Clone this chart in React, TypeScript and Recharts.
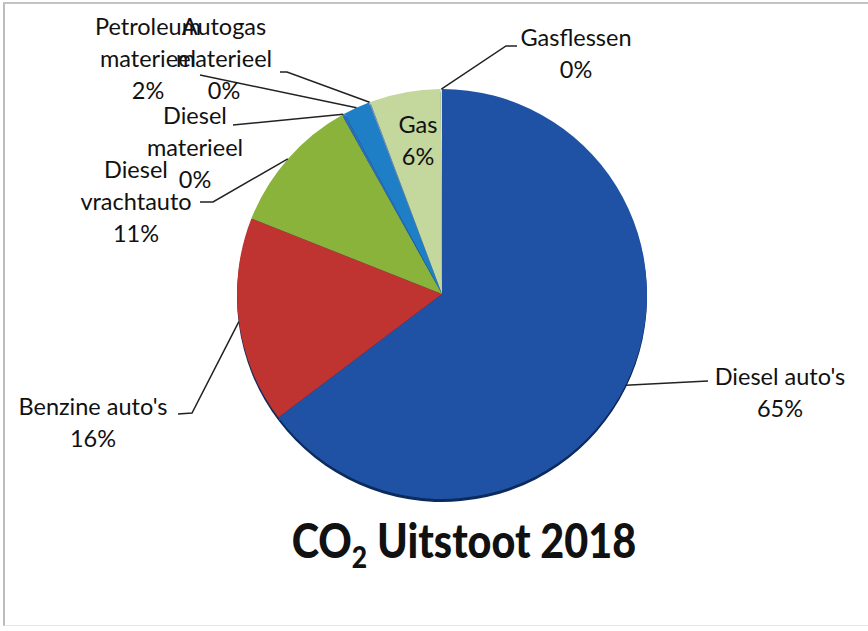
import React from 'react';
import { PieChart, Pie, Cell } from 'recharts';

// ---- data ----
const categories = [
  "Diesel auto's",
  "Benzine auto's",
  'Diesel vrachtauto',
  'Diesel materieel',
  'Petroleum materieel',
  'Autogas materieel',
  'Gas',
  'Gasflessen',
];
const values = [64.7, 16.3, 10.9, 0.2, 2.1, 0.1, 5.6, 0.1];
const labelNameLines = [
  ["Diesel auto's"],
  ["Benzine auto's"],
  ['Diesel', 'vrachtauto'],
  ['Diesel', 'materieel'],
  ['Petroleum', 'materieel'],
  ['Autogas', 'materieel'],
  ['Gas'],
  ['Gasflessen'],
];
const titleMain = 'CO';
const titleSub = '2';
const titleRest = ' Uitstoot 2018';

// ---- styles ----
const colors = ['#1F52A4', '#BF3330', '#8AB33C', '#2E6FB8', '#1E7FC6', '#6E9BD0', '#C4D79C', '#D9E6BE'];
const CX = 442;
const CY = 294;
const R = 205;
const LINE_H = 32;
// label layout: offsets relative to pie centre (text centre x, first baseline y, leader path after slice edge)
const labelLayout: { tx: number; ty: number; path: number[][] }[] = [
  { tx: 338, ty: 91, path: [[266, 87]] },
  { tx: -349, ty: 121, path: [[-250, 119], [-264, 120]] },
  { tx: -306, ty: -116, path: [[-229, -92], [-242, -92]] },
  { tx: -247, ty: -170, path: [[-209, -169]] },
  { tx: -294, ty: -259, path: [[-242, -219]] },
  { tx: -218, ty: -259, path: [[-155, -222], [-162, -222]] },
  { tx: -24, ty: -161, path: [] },
  { tx: 134, ty: -248, path: [[64, -248], [75, -248]] },
];

const data = categories.map((name, i) => ({ name, value: values[i] }));
const RAD = Math.PI / 180;

const renderLabel = (props: any) => {
  const { cx, cy, midAngle, outerRadius, percent, index } = props;
  const lay = labelLayout[index];
  const sx = cx + outerRadius * Math.cos(-midAngle * RAD);
  const sy = cy + outerRadius * Math.sin(-midAngle * RAD);
  const pts = [[sx, sy], ...lay.path.map(([dx, dy]) => [cx + dx, cy + dy])];
  const lines = [...labelNameLines[index], `${Math.round(percent * 100)}%`];
  const x = cx + lay.tx;
  return (
    <g key={`lbl-${index}`}>
      {pts.length > 1 && (
        <polyline
          points={pts.map((p) => p.join(',')).join(' ')}
          fill="none"
          stroke="#222"
          strokeWidth={1.5}
        />
      )}
      <text
        x={x}
        y={cy + lay.ty}
        textAnchor="middle"
        fontFamily="Lato, 'Open Sans', sans-serif"
        fontSize={23.5}
        fill="#111"
      >
        {lines.map((l, i) => (
          <tspan key={i} x={x} dy={i === 0 ? 0 : LINE_H}>
            {l}
          </tspan>
        ))}
      </text>
    </g>
  );
};

export default function App() {
  return (
    <div style={{ position: 'absolute', left: 0, top: 0, width: 868, height: 631, background: '#fff' }}>
      <div
        style={{
          position: 'absolute',
          left: 3,
          top: 2,
          width: 866,
          height: 624,
          borderLeft: '2px solid #bdbdbd',
          borderTop: '2px solid #c4c4c4',
          borderBottom: '1px solid #e6e6e6',
          boxSizing: 'border-box',
        }}
      />
      <div style={{ position: 'absolute', left: 0, top: 0 }}>
        <PieChart width={868} height={631} margin={{ top: 0, right: 0, bottom: 0, left: 0 }}>
          <Pie
            data={data}
            dataKey="value"
            nameKey="name"
            cx={CX}
            cy={CY + 3}
            outerRadius={R}
            startAngle={90}
            endAngle={-270}
            stroke="none"
            fill="#0c2a5c"
            isAnimationActive={false}
            legendType="none"
          />
          <Pie
            data={data}
            dataKey="value"
            nameKey="name"
            cx={CX}
            cy={CY}
            outerRadius={R}
            startAngle={90}
            endAngle={-270}
            stroke="none"
            isAnimationActive={false}
            label={renderLabel}
            labelLine={false}
          >
            {data.map((d, i) => (
              <Cell key={d.name} fill={colors[i]} />
            ))}
          </Pie>
        </PieChart>
      </div>
      <div
        style={{
          position: 'absolute',
          left: 464,
          top: 517,
          transform: 'translateX(-50%) scaleX(0.88)',
          whiteSpace: 'nowrap',
          fontFamily: "Lato, 'Open Sans', sans-serif",
          fontWeight: 900,
          fontSize: 47,
          lineHeight: '47px',
          color: '#111',
        }}
      >
        {titleMain}
        <sub style={{ fontSize: 30, verticalAlign: 'baseline', position: 'relative', top: 10 }}>{titleSub}</sub>
        {titleRest}
      </div>
    </div>
  );
}
